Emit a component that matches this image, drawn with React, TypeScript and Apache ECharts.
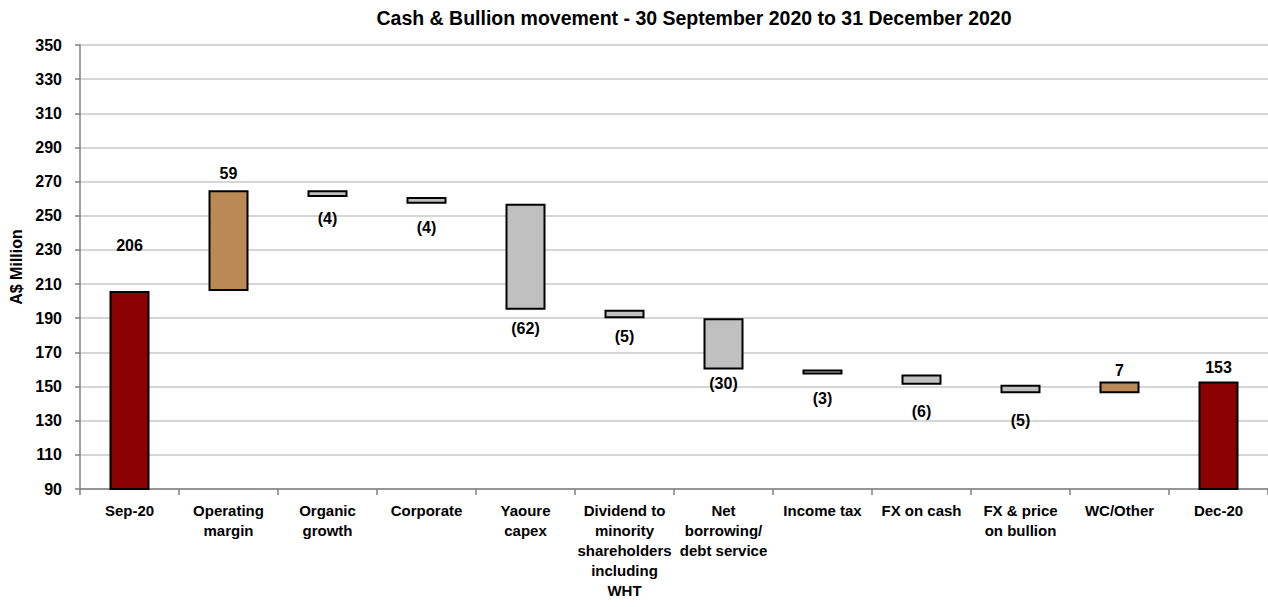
import React, { useEffect, useRef } from "react";
import * as echarts from "echarts";

const categories = [
  "Sep-20",
  "Operating\nmargin",
  "Organic\ngrowth",
  "Corporate",
  "Yaoure\ncapex",
  "Dividend to\nminority\nshareholders\nincluding\nWHT",
  "Net\nborrowing/\ndebt service",
  "Income tax",
  "FX on cash",
  "FX & price\non bullion",
  "WC/Other",
  "Dec-20",
];
const values = [206, 59, -4, -4, -62, -5, -30, -3, -6, -5, 7, 153];
const isTotal = [true, false, false, false, false, false, false, false, false, false, false, true];
const labelGaps = [37, 9, 14, 16, 11, 10, 6, 16, 19, 19, 3, 6];

const C_TOTAL = "#8b0000";
const C_UP = "#b98a55";
const C_DOWN = "#c0c0c0";
const FONT = "'Liberation Sans', Arial, sans-serif";

export default function App() {
  const ref = useRef<HTMLDivElement>(null);
  useEffect(() => {
    document.body.style.margin = "0";
    if (!ref.current) return;
    const chart = echarts.init(ref.current, undefined, { renderer: "svg" });
    let running = 0;
    const base: any[] = [];
    const bars: any[] = [];
    values.forEach((v, i) => {
      if (isTotal[i]) {
        base.push(0);
        running = v;
        bars.push({
          value: v,
          itemStyle: { color: C_TOTAL },
          label: { position: "top", distance: labelGaps[i] },
        });
      } else {
        const start = running;
        const end = running + v;
        running = end;
        base.push(Math.min(start, end));
        bars.push({
          value: Math.abs(v),
          raw: v,
          itemStyle: { color: v >= 0 ? C_UP : C_DOWN },
          label: { position: v >= 0 ? "top" : "bottom", distance: labelGaps[i] },
        });
      }
    });
    chart.setOption({
      animation: false,
      title: {
        text: "Cash & Bullion movement - 30 September 2020 to 31 December 2020",
        left: 689,
        top: 3,
        textAlign: "center",
        textStyle: { fontFamily: FONT, fontSize: 19.5, fontWeight: "bold", color: "#000" },
      },
      grid: { left: 80, right: 0, top: 45, bottom: 118, containLabel: false, outerBoundsMode: "none" },
      xAxis: {
        type: "category",
        data: categories,
        axisLine: { lineStyle: { color: "#808080", width: 1.5 } },
        axisTick: { show: true, length: 6, lineStyle: { color: "#808080", width: 1.5 } },
        axisLabel: {
          interval: 0,
          margin: 11,
          fontFamily: FONT,
          fontSize: 15,
          fontWeight: "bold",
          color: "#000",
          lineHeight: 20,
        },
      },
      yAxis: {
        type: "value",
        min: 90,
        max: 350,
        interval: 20,
        name: "A$ Million",
        nameLocation: "middle",
        nameGap: 56,
        nameTextStyle: { fontFamily: FONT, fontSize: 16, fontWeight: "bold", color: "#000" },
        axisLine: { show: true, lineStyle: { color: "#808080", width: 1.5 } },
        axisTick: { show: true, length: 5, lineStyle: { color: "#808080", width: 1.5 } },
        axisLabel: {
          margin: 18,
          fontFamily: FONT,
          fontSize: 16,
          fontWeight: "bold",
          color: "#000",
        },
        splitLine: { lineStyle: { color: "#c8c8c8", width: 1.5 } },
      },
      series: [
        {
          type: "bar",
          stack: "w",
          data: base,
          itemStyle: { color: "transparent", borderWidth: 0 },
          emphasis: { disabled: true },
          barWidth: 40,
          silent: true,
        },
        {
          type: "bar",
          stack: "w",
          data: bars,
          barWidth: 40,
          itemStyle: { borderColor: "#000", borderWidth: 2 },
          label: {
            show: true,
            fontFamily: FONT,
            fontSize: 16,
            fontWeight: "bold",
            color: "#000",
            formatter: (p: any) => {
              const raw = p.data.raw !== undefined ? p.data.raw : p.data.value;
              return raw < 0 ? "(" + Math.abs(raw) + ")" : String(raw);
            },
          },
        },
      ],
    });
    return () => chart.dispose();
  }, []);
  return <div ref={ref} style={{ width: 1268, height: 607 }} />;
}
